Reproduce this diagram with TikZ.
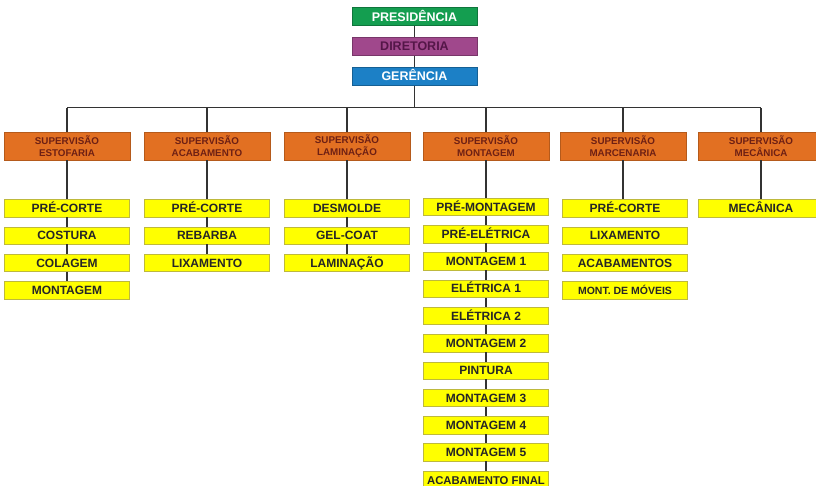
\documentclass[tikz,border=0pt]{standalone}
\usepackage{fontspec}
\setmainfont{Liberation Sans}
\usetikzlibrary{positioning}

\definecolor{presgreen}{RGB}{20,158,80}
\definecolor{dirpurple}{RGB}{160,72,140}
\definecolor{dirtext}{RGB}{84,22,72}
\definecolor{gerblue}{RGB}{28,128,198}
\definecolor{suporange}{RGB}{226,112,34}
\definecolor{suptext}{RGB}{110,32,20}
\definecolor{taskyellow}{RGB}{255,255,0}
\definecolor{taskline}{RGB}{190,185,60}

\begin{document}
\begin{tikzpicture}[x=1pt, y=-1pt, node distance=9.4pt,
    headbox/.style={draw=#1!75!black, fill=#1, minimum width=125pt,
              minimum height=18pt, inner sep=0pt,
              font=\bfseries\fontsize{12.5}{14}\selectfont,
              text height=9pt, text depth=0pt},
    supbox/.style={draw=suporange!80!black, fill=suporange, text=suptext,
              minimum width=126pt, minimum height=28pt, inner sep=0pt,
              align=center, font=\bfseries\fontsize{9.8}{12}\selectfont},
    taskbox/.style={draw=taskline, fill=taskyellow, text=black!85,
              minimum width=125pt, minimum height=17.5pt, inner sep=0pt,
              font=\bfseries\fontsize{12}{14}\selectfont,
              text height=8.7pt, text depth=0pt},
    conn/.style={draw=black!80, line width=1.9pt}]
  \clip (0,0) rectangle (816,485);
  \fill[white] (0,0) rectangle (816,485);

  % direcao
  \node[headbox=presgreen, text=white] (pres) at (414.5,16.5) {PRESIDÊNCIA};
  \node[headbox=dirpurple, text=dirtext] (dir) at (414.5,46.3) {DIRETORIA};
  \node[headbox=gerblue, text=white] (ger) at (414.5,76.3) {GERÊNCIA};
  \coordinate (busL) at (67,107.5);
  \coordinate (busR) at (761,107.5);

  % supervisoes
  \node[supbox] (sEst) at (67,146)  {SUPERVISÃO\\ESTOFARIA};
  \node[supbox] (sAca) at (207,146) {SUPERVISÃO\\ACABAMENTO};
  \node[supbox] (sLam) at (347,146) {SUPERVISÃO\\LAMINAÇÃO};
  \node[supbox] (sMon) at (486,146) {SUPERVISÃO\\MONTAGEM};
  \node[supbox] (sMar) at (623,146) {SUPERVISÃO\\MARCENARIA};
  \node[supbox] (sMec) at (761,146) {SUPERVISÃO\\MECÂNICA};

  % estofaria
  \node[taskbox] (e1) [below=39pt of sEst] {PRÉ-CORTE};
  \node[taskbox] (e2) [below=of e1] {COSTURA};
  \node[taskbox] (e3) [below=of e2] {COLAGEM};
  \node[taskbox] (e4) [below=of e3] {MONTAGEM};

  % acabamento
  \node[taskbox] (a1) [below=39pt of sAca] {PRÉ-CORTE};
  \node[taskbox] (a2) [below=of a1] {REBARBA};
  \node[taskbox] (a3) [below=of a2] {LIXAMENTO};

  % laminacao
  \node[taskbox] (l1) [below=39pt of sLam] {DESMOLDE};
  \node[taskbox] (l2) [below=of l1] {GEL-COAT};
  \node[taskbox] (l3) [below=of l2] {LAMINAÇÃO};

  % montagem
  \node[taskbox] (m1)  [below=37.5pt of sMon] {PRÉ-MONTAGEM};
  \node[taskbox] (m2)  [below=of m1]  {PRÉ-ELÉTRICA};
  \node[taskbox] (m3)  [below=of m2]  {MONTAGEM 1};
  \node[taskbox] (m4)  [below=of m3]  {ELÉTRICA 1};
  \node[taskbox] (m5)  [below=of m4]  {ELÉTRICA 2};
  \node[taskbox] (m6)  [below=of m5]  {MONTAGEM 2};
  \node[taskbox] (m7)  [below=of m6]  {PINTURA};
  \node[taskbox] (m8)  [below=of m7]  {MONTAGEM 3};
  \node[taskbox] (m9)  [below=of m8]  {MONTAGEM 4};
  \node[taskbox] (m10) [below=of m9]  {MONTAGEM 5};
  \node[taskbox, font=\bfseries\fontsize{11.3}{13}\selectfont]
        (m11) [below=of m10] {ACABAMENTO FINAL};

  % marcenaria
  \node[taskbox] (c1) [below=39pt of sMar, xshift=2pt] {PRÉ-CORTE};
  \node[taskbox] (c2) [below=of c1] {LIXAMENTO};
  \node[taskbox] (c3) [below=of c2] {ACABAMENTOS};
  \node[taskbox, font=\bfseries\fontsize{10.5}{12}\selectfont]
        (c4) [below=of c3] {MONT. DE MÓVEIS};

  % mecanica
  \node[taskbox] (k1) [below=39pt of sMec] {MECÂNICA};

  % ligacoes
  \draw[conn] (pres)--(dir)--(ger)--(ger |- busL);
  \draw[conn] (busL)--(busR);
  \draw[conn] (sEst)--(sEst |- busL);
  \draw[conn] (sAca)--(sAca |- busL);
  \draw[conn] (sLam)--(sLam |- busL);
  \draw[conn] (sMon)--(sMon |- busL);
  \draw[conn] (sMar)--(sMar |- busL);
  \draw[conn] (sMec)--(sMec |- busL);
  \draw[conn] (sEst)--(e1)--(e2)--(e3)--(e4);
  \draw[conn] (sAca)--(a1)--(a2)--(a3);
  \draw[conn] (sLam)--(l1)--(l2)--(l3);
  \draw[conn] (sMon)--(m1)--(m2)--(m3)--(m4)--(m5)--(m6)--(m7)--(m8)
              --(m9)--(m10)--(m11);
  \draw[conn] (sMar)--(sMar |- c1.north);
  \draw[conn] (sMec)--(k1);
\end{tikzpicture}
\end{document}
